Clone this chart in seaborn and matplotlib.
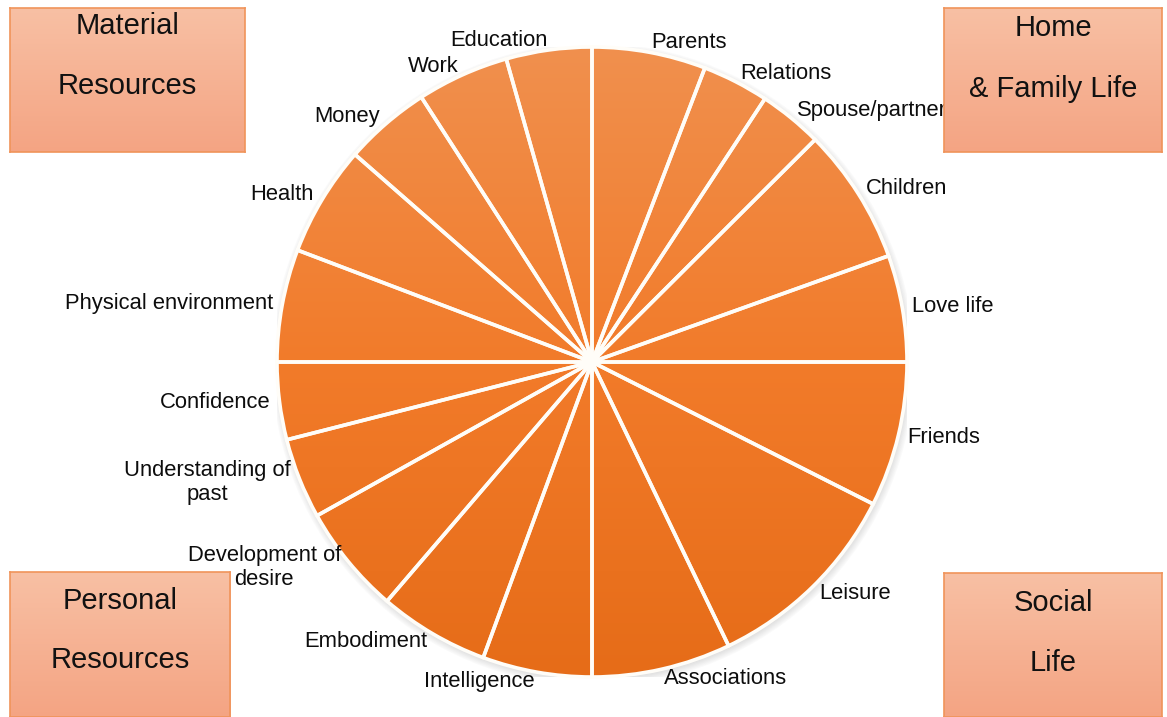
import numpy as np
import matplotlib
matplotlib.use("Agg")
import matplotlib.pyplot as plt
import seaborn as sns


# Life domains, clockwise from 12 o'clock, with their share of the circle (degrees)
domains = [
    "Parents", "Relations", "Spouse/partner", "Children", "Love life",
    "Friends", "Leisure", "Associations",
    "Intelligence", "Embodiment", "Development of\ndesire",
    "Understanding of\npast", "Confidence",
    "Physical environment", "Health", "Money", "Work", "Education",
]
shares = [
    21.0, 12.3, 11.8, 25.2, 19.7,
    26.8, 37.5, 25.7,
    20.2, 20.4, 20.2, 14.9, 14.3,
    20.8, 20.4, 16.0, 17.0, 15.8,
]

# Corner group boxes: (first line, second line)
group_material = ("Material", "Resources")
group_home = ("Home", "& Family Life")
group_personal = ("Personal", "Resources")
group_social = ("Social", "Life")


sns.set_theme(style="white")
plt.rcParams["font.family"] = ["Liberation Sans", "DejaVu Sans"]

W, H = 1167, 717
fig = plt.figure(figsize=(W / 100, H / 100), dpi=100)
fig.patch.set_facecolor("white")

pie_cmap = sns.blend_palette(["#F0904E", "#F27B2A", "#E66C18"], as_cmap=True)
box_cmap = sns.blend_palette(["#F8C0A4", "#F4A483"], as_cmap=True)


# Pie
R = 315
ax = fig.add_axes([(592 - R) / W, (H - 362 - R) / H, 2 * R / W, 2 * R / H])

wedges, texts = ax.pie(
    shares,
    labels=domains,
    startangle=90,
    counterclock=False,
    labeldistance=1.03,
    wedgeprops=dict(edgecolor="#FFFDF8", linewidth=2.6),
    textprops=dict(fontsize=15.8, color="#0d0d0d"),
)

# soft shadow around the rim
for k in range(6):
    ax.add_patch(plt.Circle((0.004, -0.008), 1.0 + 0.004 * k, color="#9a9a9a",
                            alpha=0.05, zorder=1, lw=0))

# vertical gradient fill, clipped to each wedge
grad = np.linspace(0, 1, 256).reshape(-1, 1)
for w in wedges:
    w.set_facecolor("none")
    w.set_zorder(3)
    im = ax.imshow(grad, cmap=pie_cmap, extent=(-1, 1, -1, 1),
                   origin="upper", aspect="auto", zorder=2)
    im.set_clip_path(w)

for t in texts:
    t.set_multialignment("center")
    t.set_clip_on(False)

ax.set_xlim(-1, 1)
ax.set_ylim(-1, 1)
ax.set_aspect("equal")
ax.axis("off")


# Corner boxes
def group_box(x0, y0, x1, y1, lines, y_lines):
    bax = fig.add_axes([x0 / W, (H - y1) / H, (x1 - x0) / W, (y1 - y0) / H])
    bax.imshow(grad, cmap=box_cmap, extent=(0, 1, 0, 1),
               origin="upper", aspect="auto")
    bax.set_xlim(0, 1)
    bax.set_ylim(0, 1)
    bax.set_xticks([])
    bax.set_yticks([])
    for s in bax.spines.values():
        s.set_edgecolor("#F0945A")
        s.set_linewidth(1.2)
    for txt, yl in zip(lines, y_lines):
        bax.text(0.5, (y1 - yl) / (y1 - y0), txt, ha="center", va="center",
                 fontsize=21, color="#111111", transform=bax.transAxes)


group_box(10, 8, 245, 152, group_material, (26, 86))
group_box(944, 8, 1162, 152, group_home, (28, 89))
group_box(10, 572, 230, 717, group_personal, (601, 660))
group_box(944, 573, 1162, 717, group_social, (603, 663))

plt.savefig("out.png", dpi=100)
plt.close()
